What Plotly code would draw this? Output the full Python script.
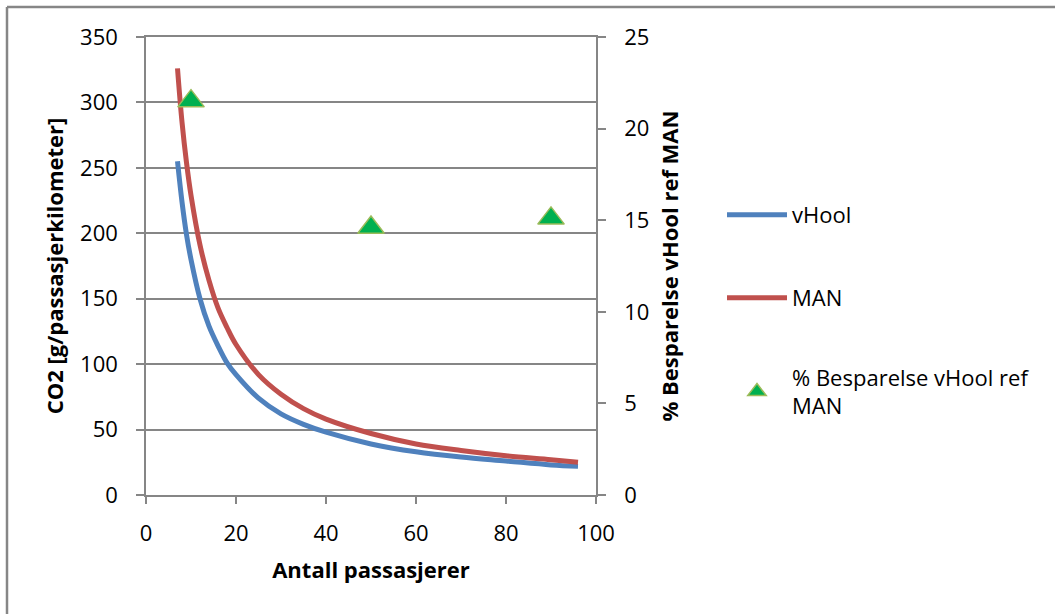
import plotly.graph_objects as go

# Data
passengers = [7, 8, 9, 10, 12, 14, 16, 18, 20, 25, 30, 35, 40, 50, 60, 70, 80, 90, 96]
vhool_co2 = [255, 224, 199, 180, 150, 129, 114, 101, 92, 74, 62, 54, 48, 39, 33, 29, 26, 23, 22]
man_co2 = [326, 285, 254, 229, 191, 164, 143, 128, 115, 92, 77, 66, 58, 47, 39, 34, 30, 27, 25]

saving_x = [10, 50, 90]
saving_pct = [21.5, 14.6, 15.1]

x_ticks = [0, 20, 40, 60, 80, 100]
y_left_ticks = [0, 50, 100, 150, 200, 250, 300, 350]
y_right_ticks = [0, 5, 10, 15, 20, 25]

FONT = "Open Sans"
FS = 22
AX = "#868686"

fig = go.Figure()
fig.add_trace(go.Scatter(x=passengers, y=vhool_co2, mode="lines", name="vHool",
                         line=dict(color="#4F81BD", width=5, shape="spline"),
                         legend="legend"))
fig.add_trace(go.Scatter(x=passengers, y=man_co2, mode="lines", name="MAN",
                         line=dict(color="#C0504D", width=5, shape="spline"),
                         legend="legend2"))
fig.add_trace(go.Scatter(x=saving_x, y=saving_pct, mode="markers", yaxis="y2",
                         name="% Besparelse vHool ref<br>MAN",
                         marker=dict(symbol="triangle-up", size=23, color="#00B050",
                                     line=dict(color="#9BBB59", width=1.5)),
                         legend="legend3"))

W, H = 1055, 614
ml, mr, mt, mb = 146, W - 596, 37, H - 495
pw, ph = W - ml - mr, H - mt - mb

def px(xp):
    return (xp - ml) / pw

def py(yp):
    return (H - mb - yp) / ph

legend_common = dict(font=dict(family=FONT, size=FS, color="#000000"),
                     bgcolor="rgba(0,0,0,0)", xanchor="left", yanchor="middle",
                     itemwidth=60)

fig.update_layout(
    width=W, height=H,
    showlegend=True,
    margin=dict(l=ml, r=mr, t=mt, b=mb),
    plot_bgcolor="white", paper_bgcolor="white",
    font=dict(family=FONT, size=FS, color="#000000"),
    xaxis=dict(range=[0, 100], tickvals=x_ticks, showgrid=False, zeroline=False,
               showline=True, linecolor=AX, linewidth=1.5, mirror=True,
               ticks="outside", ticklen=7, tickcolor=AX, tickwidth=1.5,
               ticklabelstandoff=11,
               title=dict(text="<b>Antall passasjerer</b>", font=dict(size=FS), standoff=16)),
    yaxis=dict(range=[0, 350], tickvals=y_left_ticks, showgrid=True, gridcolor=AX,
               gridwidth=1.5, zeroline=False, showline=True, linecolor=AX, linewidth=1.5,
               ticks="outside", ticklen=8, tickcolor=AX, tickwidth=1.5,
               ticklabelstandoff=14,
               title=dict(text="<b>CO2 [g/passasjerkilometer]</b>", font=dict(size=FS), standoff=10)),
    yaxis2=dict(range=[0, 25], tickvals=y_right_ticks, overlaying="y", side="right",
                showgrid=False, zeroline=False, showline=True, linecolor=AX, linewidth=1.5,
                ticks="outside", ticklen=8, tickcolor=AX, tickwidth=1.5,
                ticklabelstandoff=14,
                title=dict(text="<b>% Besparelse vHool ref MAN</b>", font=dict(size=FS), standoff=14)),
    legend=dict(x=px(722), y=py(215), **legend_common),
    legend2=dict(x=px(722), y=py(298), **legend_common),
    legend3=dict(x=px(722), y=py(392), **legend_common),
    shapes=[
        dict(type="line", xref="paper", yref="paper", x0=px(7), x1=px(W + 5),
             y0=py(7), y1=py(7), line=dict(color=AX, width=2.5)),
        dict(type="line", xref="paper", yref="paper", x0=px(7), x1=px(7),
             y0=py(7), y1=py(H + 5), line=dict(color=AX, width=2.5)),
    ],
)

fig.write_html("out.html")
